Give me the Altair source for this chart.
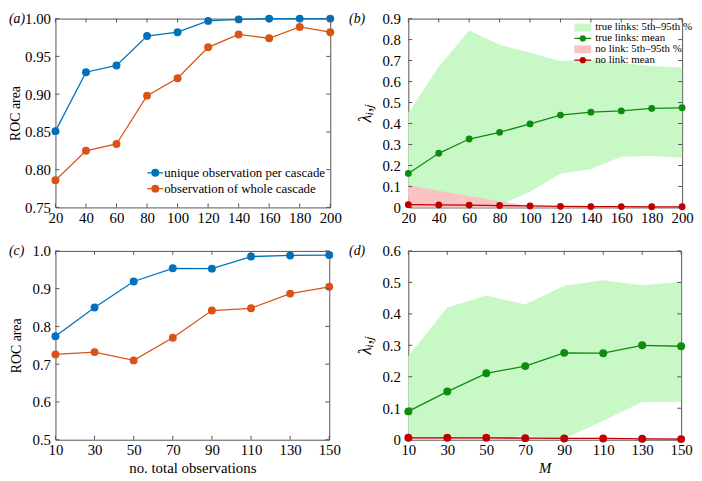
import altair as alt
import pandas as pd

# ---------------- data ----------------
x_ab = [20, 40, 60, 80, 100, 120, 140, 160, 180, 200]
a_unique = [0.851, 0.929, 0.938, 0.977, 0.982, 0.997, 0.999, 1.000, 1.000, 1.000]
a_whole = [0.786, 0.825, 0.834, 0.898, 0.921, 0.962, 0.979, 0.974, 0.989, 0.982]

b_true_mean = [0.162, 0.258, 0.326, 0.358, 0.398, 0.440, 0.454, 0.460, 0.472, 0.475]
b_true_lo = [0.05, 0.03, 0.02, 0.01, 0.075, 0.16, 0.183, 0.241, 0.245, 0.237]
b_true_hi = [0.45, 0.67, 0.843, 0.775, 0.737, 0.698, 0.705, 0.689, 0.674, 0.667]
b_none_lo = [0, 0, 0, 0, 0, 0, 0, 0, 0, 0]
b_none_hi = [0.106, 0.08, 0.055, 0.03, 0.005, 0.003, 0.002, 0.002, 0.002, 0.002]
b_none_mean = [0.013, 0.012, 0.011, 0.009, 0.007, 0.005, 0.004, 0.004, 0.003, 0.003]

x_cd = [10, 30, 50, 70, 90, 110, 130, 150]
c_unique = [0.774, 0.850, 0.919, 0.954, 0.953, 0.985, 0.988, 0.989]
c_whole = [0.726, 0.732, 0.710, 0.770, 0.842, 0.848, 0.887, 0.905]

d_true_mean = [0.090, 0.153, 0.211, 0.234, 0.276, 0.275, 0.300, 0.297]
d_true_lo = [0.0, 0.0, 0.002, 0.012, 0.003, 0.06, 0.12, 0.12]
d_true_hi = [0.266, 0.42, 0.458, 0.43, 0.489, 0.507, 0.491, 0.502]
d_none_lo = [0, 0, 0, 0, 0, 0, 0, 0]
d_none_hi = [0.009, 0.009, 0.009, 0.008, 0.006, 0.006, 0.005, 0.005]
d_none_mean = [0.006, 0.006, 0.006, 0.005, 0.004, 0.004, 0.003, 0.002]

roc_series = ["unique observation per cascade", "observation of whole cascade"]
lam_series = ["true links: mean", "no link: mean"]
band_series = ["true links: 5th\u201395th %", "no link: 5th\u201395th %"]
panel_labels = ["(a)", "(b)", "(c)", "(d)"]

ticks_ab = [20, 40, 60, 80, 100, 120, 140, 160, 180, 200]
ticks_cd = [10, 30, 50, 70, 90, 110, 130, 150]
yt_a = [0.75, 0.80, 0.85, 0.90, 0.95, 1.00]
yt_b = [0, 0.1, 0.2, 0.3, 0.4, 0.5, 0.6, 0.7, 0.8, 0.9]
yt_c = [0.5, 0.6, 0.7, 0.8, 0.9, 1.0]
yt_d = [0, 0.1, 0.2, 0.3, 0.4, 0.5, 0.6]

# ---------------- style ----------------
FONT = "Times New Roman, Liberation Serif, serif"
BLUE = "#0072BD"
ORANGE = "#D95319"
GREEN = "#0e8c0e"
GREEN_BAND = "#c8f8c6"
RED = "#c00000"
RED_BAND = "#fbc3c3"
FRAME = "#555555"
W_A, W_B, W_C, W_D, H = 278, 277, 277, 276, 191
LAMBDA = "\u03bb\u1d62,\u2c7c"


def xaxis(values, title=None, italic=False):
    kw = dict(values=values, grid=False, domain=False, ticks=False,
              labelFont=FONT, labelFontSize=15, labelColor="black",
              labelPadding=3, labelFlush=False, format="d")
    if title:
        kw.update(title=title, titleFont=FONT, titleFontSize=15,
                  titleFontWeight="normal", titleColor="black", titlePadding=3)
        if italic:
            kw["titleFontStyle"] = "italic"
    else:
        kw["title"] = None
    return alt.Axis(**kw)


def yaxis(values, fmt, title, size=14, italic=False, pad=2, lpad=5):
    kw = dict(values=values, format=fmt, title=title, grid=False, domain=False,
              ticks=False, labelFont=FONT, labelFontSize=15, labelColor="black",
              labelPadding=lpad, labelFlush=False, titleFont=FONT,
              titleFontSize=size, titleFontWeight="normal", titleColor="black",
              titlePadding=pad)
    if italic:
        kw["titleFontStyle"] = "italic"
    return alt.Axis(**kw)


class Panel:
    def __init__(self, xsc, ysc, xax, yax):
        self.xsc, self.ysc, self.xax, self.yax = xsc, ysc, xax, yax

    def X(self, f):
        return alt.X(f, scale=self.xsc, axis=self.xax)

    def Y(self, f):
        return alt.Y(f, scale=self.ysc, axis=self.yax)


def series_layers(P, xs, ys, color, size):
    df = pd.DataFrame({"x": xs, "v": ys})
    line = alt.Chart(df).mark_line(strokeWidth=1.3, color=color).encode(
        x=P.X("x:Q"), y=P.Y("v:Q"))
    pts = alt.Chart(df).mark_point(filled=True, size=size, opacity=1, color=color).encode(
        x=P.X("x:Q"), y=P.Y("v:Q"))
    return [line, pts]


def band_layer(P, xs, lo, hi, color):
    df = pd.DataFrame({"x": xs, "lo": lo, "hi": hi})
    return alt.Chart(df).mark_area(color=color, opacity=1).encode(
        x=P.X("x:Q"), y=P.Y("lo:Q"), y2="hi:Q")


def tick_layers(P, xt, yt, w, h):
    tx = pd.DataFrame({"tv": xt})
    ty = pd.DataFrame({"tv": yt})
    bx = alt.Chart(tx).mark_rule(color=FRAME, strokeWidth=1)
    by = alt.Chart(ty).mark_rule(color=FRAME, strokeWidth=1)
    return [
        bx.encode(x=P.X("tv:Q"), y=alt.value(h), y2=alt.value(h - 4)),
        bx.encode(x=P.X("tv:Q"), y=alt.value(0), y2=alt.value(4)),
        by.encode(y=P.Y("tv:Q"), x=alt.value(0), x2=alt.value(4)),
        by.encode(y=P.Y("tv:Q"), x=alt.value(w), x2=alt.value(w - 4)),
    ]


def label_layer(text, dx):
    return alt.Chart(pd.DataFrame({"t": [text]})).mark_text(
        font=FONT, fontSize=14, fontStyle="italic", align="left", baseline="middle"
    ).encode(x=alt.value(dx), y=alt.value(0), text="t:N")


def legend_line(text, color, xl, xr, y, size, fs, tx):
    d = pd.DataFrame({"t": [text]})
    ln = alt.Chart(d).mark_rule(color=color, strokeWidth=1.3).encode(
        x=alt.value(xl), x2=alt.value(xr), y=alt.value(y))
    pt = alt.Chart(d).mark_point(filled=True, size=size, opacity=1, color=color).encode(
        x=alt.value((xl + xr) / 2), y=alt.value(y))
    tt = alt.Chart(d).mark_text(font=FONT, fontSize=fs, align="left", baseline="middle",
                                color="black").encode(
        x=alt.value(tx), y=alt.value(y), text="t:N")
    return [ln, pt, tt]


def legend_box(text, color, xl, xr, y0, y1, fs, tx):
    d = pd.DataFrame({"t": [text]})
    rc = alt.Chart(d).mark_rect(color=color).encode(
        x=alt.value(xl), x2=alt.value(xr), y=alt.value(y0), y2=alt.value(y1))
    tt = alt.Chart(d).mark_text(font=FONT, fontSize=fs, align="left", baseline="middle",
                                color="black").encode(
        x=alt.value(tx), y=alt.value((y0 + y1) / 2), text="t:N")
    return [rc, tt]


xs_ab = alt.Scale(domain=[20, 200], nice=False, zero=False)
xs_cd = alt.Scale(domain=[10, 150], nice=False, zero=False)

# ---------------- panel a ----------------
PA = Panel(xs_ab, alt.Scale(domain=[0.75, 1.0], nice=False, zero=False),
           xaxis(ticks_ab), yaxis(yt_a, ".2f", "ROC area"))
pa = alt.layer(
    *series_layers(PA, x_ab, a_whole, ORANGE, 64),
    *series_layers(PA, x_ab, a_unique, BLUE, 64),
    *tick_layers(PA, ticks_ab, yt_a, W_A, H),
    *legend_line(roc_series[0], BLUE, 93, 109, 156, 64, 13, 110),
    *legend_line(roc_series[1], ORANGE, 93, 109, 172, 64, 13, 110),
    label_layer(panel_labels[0], -47),
).properties(width=W_A, height=H)

# ---------------- panel b ----------------
PB = Panel(xs_ab, alt.Scale(domain=[0, 0.9], nice=False, zero=False),
           xaxis(ticks_ab),
           yaxis(yt_b, "~g", LAMBDA, size=18, italic=True, pad=8, lpad=8))
pb = alt.layer(
    band_layer(PB, x_ab, b_true_lo, b_true_hi, GREEN_BAND),
    band_layer(PB, x_ab, b_none_lo, b_none_hi, RED_BAND),
    *tick_layers(PB, ticks_ab, yt_b, W_B, H),
    *series_layers(PB, x_ab, b_none_mean, RED, 48),
    *series_layers(PB, x_ab, b_true_mean, GREEN, 48),
    *legend_box(band_series[0], GREEN_BAND, 168, 185, 5, 13, 11, 189),
    *legend_line(lam_series[0], GREEN, 168, 185, 20, 40, 11, 189),
    *legend_box(band_series[1], RED_BAND, 168, 185, 27, 35, 11, 189),
    *legend_line(lam_series[1], RED, 168, 185, 42, 40, 11, 189),
    label_layer(panel_labels[1], -60),
).properties(width=W_B, height=H)

# ---------------- panel c ----------------
PC = Panel(xs_cd, alt.Scale(domain=[0.5, 1.0], nice=False, zero=False),
           xaxis(ticks_cd, "no. total observations"),
           yaxis(yt_c, ".1f", "ROC area", pad=9))
pc = alt.layer(
    *series_layers(PC, x_cd, c_whole, ORANGE, 64),
    *series_layers(PC, x_cd, c_unique, BLUE, 64),
    *tick_layers(PC, ticks_cd, yt_c, W_C, H),
    label_layer(panel_labels[2], -47),
).properties(width=W_C, height=H)

# ---------------- panel d ----------------
PD = Panel(xs_cd, alt.Scale(domain=[0, 0.6], nice=False, zero=False),
           xaxis(ticks_cd, "M", italic=True),
           yaxis(yt_d, "~g", LAMBDA, size=18, italic=True, pad=8, lpad=8))
pdd = alt.layer(
    band_layer(PD, x_cd, d_true_lo, d_true_hi, GREEN_BAND),
    band_layer(PD, x_cd, d_none_lo, d_none_hi, RED_BAND),
    *tick_layers(PD, ticks_cd, yt_d, W_D, H),
    *series_layers(PD, x_cd, d_none_mean, RED, 64),
    *series_layers(PD, x_cd, d_true_mean, GREEN, 64),
    label_layer(panel_labels[3], -60),
).properties(width=W_D, height=H)

chart = alt.concat(
    pa, pb, pc, pdd, columns=2, bounds="flush",
    spacing={"row": 44, "column": 79},
).configure_view(
    stroke=FRAME, strokeWidth=1
).configure_axis(
    labelFont=FONT, titleFont=FONT
).configure_text(
    font=FONT
).properties(background="white",
             padding={"left": 0, "top": 0, "right": 0, "bottom": 0})

chart.save("out.html", embed_options={"renderer": "svg", "actions": False})
